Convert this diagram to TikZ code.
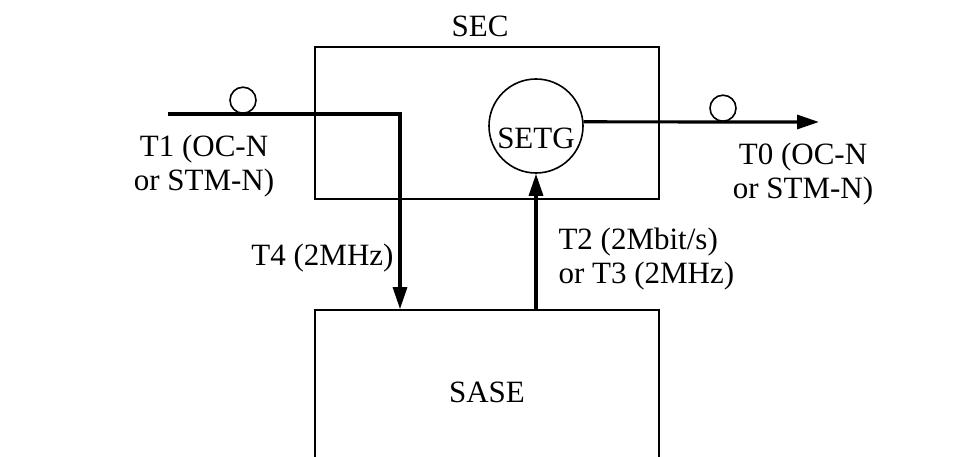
\documentclass[tikz,border=0pt]{standalone}
\usepackage{fontspec}
\setmainfont{Liberation Serif}
\usetikzlibrary{arrows.meta}

\begin{document}
\begin{tikzpicture}[x=1pt,y=-1pt,>={Triangle[length=22pt,width=14pt]},
 font=\fontsize{31}{34}\selectfont,
 block/.style={draw,line width=1.7pt,inner sep=0pt},
 ring/.style={draw,circle,line width=1.6pt,inner sep=0pt,minimum size=26pt},
 signal/.style={line width=3.2pt}]
\useasboundingbox (0,0) rectangle (963,457);
% boxes
\node[block,minimum width=344pt,minimum height=152pt] (sec) at (487,123) {};
\node[anchor=base] (seclabel) at (480,37) {SEC};
\node[block,minimum width=344pt,minimum height=164pt] (sase) at (487,392) {SASE};
\node[draw,circle,line width=1.6pt,inner sep=0pt,minimum size=94pt] (setg) at (536,126)
 {\raisebox{-13pt}[20pt][0pt]{SETG}};
% line signals in and out
\coordinate (inA) at (168,114);
\coordinate (bend) at (400,114);
\coordinate (outB) at (819,122);
\draw[signal,->] (inA) -- (bend) -- (bend |- sase.north);
\draw[signal,->] (setg.5) -- (outB);
\draw[signal,->] (sase.north -| setg.south) -- (setg.south);
\node[ring,anchor=south] (ringin) at (243,114) {};
\node[ring,anchor=south] (ringout) at (723,122) {};
% labels (base is the last line)
\node[anchor=base,align=center] (tone) at (204,190) {T1 (OC-N\\or STM-N)};
\node[anchor=base,align=center] (tzero) at (803,199) {T0 (OC-N\\or STM-N)};
\node[anchor=base east] (tfour) at (397,265) {T4 (2MHz)};
\node[anchor=base west,align=left] (ttwo) at (555,283) {T2 (2Mbit/s)\\or T3 (2MHz)};
\end{tikzpicture}
\end{document}
